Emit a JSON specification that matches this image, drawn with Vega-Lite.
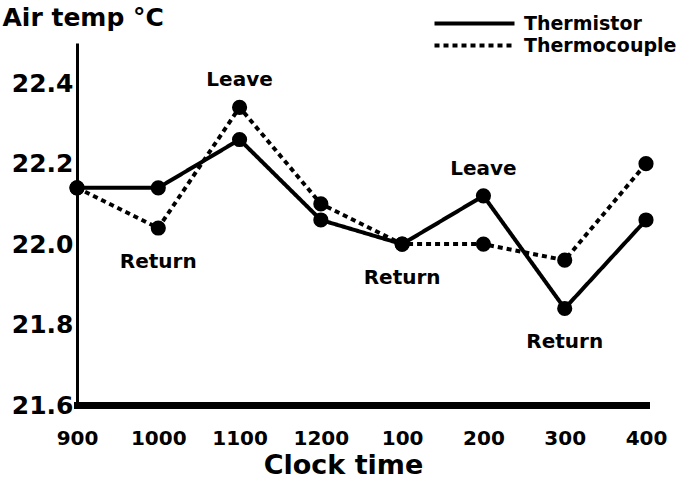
{
  "$schema": "https://vega.github.io/schema/vega-lite/v6.json",
  "width": 569,
  "height": 362,
  "autosize": "none",
  "padding": {"left": 77, "top": 43, "right": 40, "bottom": 74},
  "background": "white",
  "config": {
    "view": {"stroke": null},
    "font": "DejaVu Sans"
  },
  "data": {
    "values": [
      {"time": "900", "series": "Thermistor", "temp": 22.14, "note": ""},
      {"time": "1000", "series": "Thermistor", "temp": 22.14, "note": ""},
      {"time": "1100", "series": "Thermistor", "temp": 22.26, "note": ""},
      {"time": "1200", "series": "Thermistor", "temp": 22.06, "note": ""},
      {"time": "100", "series": "Thermistor", "temp": 22.00, "note": "Return"},
      {"time": "200", "series": "Thermistor", "temp": 22.12, "note": "Leave"},
      {"time": "300", "series": "Thermistor", "temp": 21.84, "note": "Return"},
      {"time": "400", "series": "Thermistor", "temp": 22.06, "note": ""},
      {"time": "900", "series": "Thermocouple", "temp": 22.14, "note": ""},
      {"time": "1000", "series": "Thermocouple", "temp": 22.04, "note": "Return"},
      {"time": "1100", "series": "Thermocouple", "temp": 22.34, "note": "Leave"},
      {"time": "1200", "series": "Thermocouple", "temp": 22.10, "note": ""},
      {"time": "100", "series": "Thermocouple", "temp": 22.00, "note": ""},
      {"time": "200", "series": "Thermocouple", "temp": 22.00, "note": ""},
      {"time": "300", "series": "Thermocouple", "temp": 21.96, "note": ""},
      {"time": "400", "series": "Thermocouple", "temp": 22.20, "note": ""}
    ]
  },
  "encoding": {
    "x": {
      "field": "time", "type": "ordinal",
      "sort": ["900", "1000", "1100", "1200", "100", "200", "300", "400"],
      "scale": {"type": "point", "padding": 0},
      "axis": {
        "title": "Clock time", "labelAngle": 0, "ticks": false, "tickSize": 0,
        "domainColor": "black", "domainWidth": 7, "domainCap": "square",
        "labelFont": "DejaVu Sans", "labelFontWeight": "bold", "labelFontSize": 20, "labelColor": "black",
        "labelPadding": 23, "labelBaseline": "top",
        "titleFont": "DejaVu Sans", "titleFontWeight": "bold", "titleFontSize": 27, "titleColor": "black",
        "titlePadding": 4, "titleX": 266, "titleAlign": "center", "grid": false
      }
    },
    "y": {
      "field": "temp", "type": "quantitative",
      "scale": {"domain": [21.6, 22.5], "nice": false, "zero": false},
      "axis": {
        "title": "Air temp °C", "values": [21.6, 21.8, 22.0, 22.2, 22.4], "format": ".1f",
        "ticks": false, "tickSize": 0, "grid": false,
        "domainColor": "black", "domainWidth": 3,
        "labelFont": "DejaVu Sans", "labelFontWeight": "bold", "labelFontSize": 25, "labelColor": "black",
        "labelPadding": 4,
        "titleFont": "DejaVu Sans", "titleFontWeight": "bold", "titleFontSize": 25, "titleColor": "black",
        "titleAngle": 0, "titleAlign": "left", "titleBaseline": "middle", "titleX": -75, "titleY": -26
      }
    }
  },
  "layer": [
    {
      "mark": {"type": "line", "color": "black", "strokeWidth": 4},
      "encoding": {
        "strokeDash": {
          "field": "series", "type": "nominal",
          "scale": {"domain": ["Thermistor", "Thermocouple"], "range": [[1, 0], [5, 4]]},
          "legend": {
            "title": null, "orient": "none", "legendX": 388, "legendY": -29,
            "symbolType": "M-8,0H8", "symbolSize": 100, "symbolStrokeWidth": 4, "symbolStrokeColor": "black",
            "labelFont": "DejaVu Sans", "labelFontWeight": "bold", "labelFontSize": 19, "labelColor": "black",
            "labelOffset": 40, "rowPadding": 2
          }
        }
      }
    },
    {
      "mark": {"type": "point", "filled": true, "color": "black", "opacity": 1, "size": 230}
    },
    {
      "transform": [{"filter": "datum.note == 'Leave'"}],
      "mark": {"type": "text", "dy": -27, "font": "DejaVu Sans", "fontWeight": "bold", "fontSize": 20, "color": "black", "baseline": "middle"},
      "encoding": {"text": {"field": "note"}}
    },
    {
      "transform": [{"filter": "datum.note == 'Return'"}],
      "mark": {"type": "text", "dy": 34, "font": "DejaVu Sans", "fontWeight": "bold", "fontSize": 20, "color": "black", "baseline": "middle"},
      "encoding": {"text": {"field": "note"}}
    }
  ]
}
